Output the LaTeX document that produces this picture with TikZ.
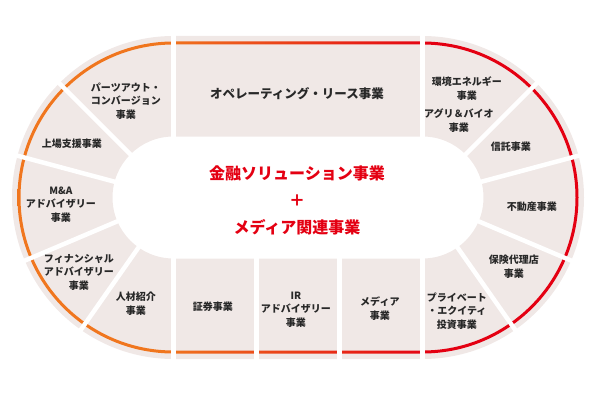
\documentclass[tikz,border=0pt]{standalone}
\usepackage{fontspec}
\setmainfont{Noto Sans CJK JP}
\usepackage{tikz}
\usetikzlibrary{calc,positioning}

\definecolor{segfill}{RGB}{240,232,230}
\definecolor{ringorange}{RGB}{240,118,30}
\definecolor{ringred}{RGB}{228,0,18}
\definecolor{labelgray}{RGB}{40,40,40}
\pgfdeclarehorizontalshading{ringshade}{100bp}{color(0bp)=(ringorange); color(38bp)=(ringorange); color(62bp)=(ringred); color(100bp)=(ringred)}

\newcommand{\segsize}{\fontsize{10pt}{13.5pt}\selectfont}
\newcommand{\bigsegsize}{\fontsize{12.5pt}{15pt}\selectfont}
\newcommand{\hubsize}{\fontsize{16pt}{27pt}\selectfont}
\newcommand{\stadium}[1]{($(lc)+(0,#1)$) arc (90:270:#1) -- ($(rc)+(0,-#1)$) arc (-90:90:#1) -- cycle}

\begin{document}
\begin{tikzpicture}[x=1pt, y=1pt, every node/.style={inner sep=0pt},
	seg/.style={font=\segsize\bfseries, text=labelgray, align=center},
	bigseg/.style={font=\bigsegsize\bfseries, text=labelgray},
	hub/.style={font=\hubsize\bfseries, text=ringred},
	gap/.style={draw=white, line width=4.5pt}]

	\useasboundingbox (0,0) rectangle (600,400);
	\coordinate (lc) at (173.5,202.5);
	\coordinate (rc) at (422.5,202.5);

	% ring of segments
	\fill[segfill, even odd rule] \stadium{161.5} \stadium{61};
	\shade[shading=ringshade, even odd rule] \stadium{156} \stadium{153};

	% white gaps
	\foreach \ang in {90,135,165,203,235,270}
		\draw[gap] ($(lc)+(\ang:55)$) -- ($(lc)+(\ang:168)$);
	\foreach \ang in {90,45,15,-23,-55,-90}
		\draw[gap] ($(rc)+(\ang:55)$) -- ($(rc)+(\ang:168)$);
	\foreach \dx in {83,166}
		\draw[gap] ($(lc)+(\dx,-55)$) -- ($(lc)+(\dx,-168)$);

	\node[seg, shift = {(127, 298)}] (partsout) {
		\begin{tabular}{c}
			\segsize パーツアウト・\\
			\segsize コンバージョン\\
			\segsize 事業
		\end{tabular}
	};

	\node[seg, shift = {(73, 255)}] (listing) {
		\begin{tabular}{c}
			\segsize 上場支援事業
		\end{tabular}
	};

	\node[seg, shift = {(62, 195)}] (ma) {
		\begin{tabular}{c}
			\segsize M\&A\\
			\segsize アドバイザリー\\
			\segsize 事業
		\end{tabular}
	};

	\node[seg, shift = {(80, 127)}] (fa) {
		\begin{tabular}{c}
			\segsize フィナンシャル\\
			\segsize アドバイザリー\\
			\segsize 事業
		\end{tabular}
	};

	\node[seg, shift = {(137, 95)}] (hr) {
		\begin{tabular}{c}
			\segsize 人材紹介\\
			\segsize 事業
		\end{tabular}
	};

	\node[bigseg, shift = {(297, 305)}] (oplease) {
		\begin{tabular}{c}
			\bigsegsize オペレーティング・リース事業
		\end{tabular}
	};

	\node[seg, shift = {(214, 92)}] (sec) {
		\begin{tabular}{c}
			\segsize 証券事業
		\end{tabular}
	};

	\node[seg, shift = {(297, 90)}] (ir) {
		\begin{tabular}{c}
			\segsize IR\\
			\segsize アドバイザリー\\
			\segsize 事業
		\end{tabular}
	};

	\node[seg, shift = {(381, 90)}] (media) {
		\begin{tabular}{c}
			\segsize メディア\\
			\segsize 事業
		\end{tabular}
	};

	\node[seg, shift = {(468, 310)}] (env) {
		\begin{tabular}{c}
			\segsize 環境エネルギー\\
			\segsize 事業
		\end{tabular}
	};

	\node[seg, shift = {(460, 278)}] (agri) {
		\begin{tabular}{c}
			\segsize アグリ＆バイオ\\
			\segsize 事業
		\end{tabular}
	};

	\node[seg, shift = {(512, 252)}] (trust) {
		\begin{tabular}{c}
			\segsize 信託事業
		\end{tabular}
	};

	\node[seg, shift = {(533, 192)}] (realestate) {
		\begin{tabular}{c}
			\segsize 不動産事業
		\end{tabular}
	};

	\node[seg, shift = {(515, 132)}] (insurance) {
		\begin{tabular}{c}
			\segsize 保険代理店\\
			\segsize 事業
		\end{tabular}
	};

	\node[seg, shift = {(458, 88)}] (pe) {
		\begin{tabular}{c}
			\segsize プライベート\\
			\segsize ・エクイティ\\
			\segsize 投資事業
		\end{tabular}
	};

	% hub in the middle
	\node[hub, shift = {(297, 199)}] (hub) {
		\begin{tabular}{c}
			\hubsize 金融ソリューション事業\\
			\hubsize ＋\\
			\hubsize メディア関連事業
		\end{tabular}
	};
\end{tikzpicture}
\end{document}
